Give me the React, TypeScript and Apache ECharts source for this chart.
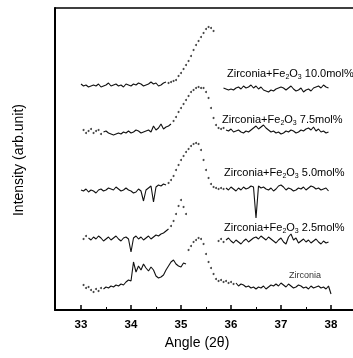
import React, { useEffect, useRef } from "react";
import * as echarts from "echarts";

// Angle grid (2θ), 33.00 … 38.00 in 0.05° steps
const angles: number[] = Array.from({ length: 101 }, (_, i) => Math.round((33 + i * 0.05) * 100) / 100);

const majorTicks = [33, 34, 35, 36, 37, 38];
const minorTicks = [33.5, 34.5, 35.5, 36.5, 37.5, 38.5];

// Intensities (arb. units, stacked with offsets as in the figure)
const fe100: (number | null)[] = [
  226, 224, 225, 223, 224, 225, 224, 226, 223, 224, 225, 227, 224, 225, 226, 224, 225, 223, 226, 225,
  224, 226, 225, 227, 226, 224, 225, 226, 228, 226, 227, 224, 225, 227, 228, 227,
  228, 229, 230, 234, 237, 241, 245, 249, 254, 260, 265, 269, 273, 277, 281, 283, 282, 279,
  null, null, null,
  222, 221, 220, 221, 220, 222, 223, 221, 224, 222, 223, 225, 222, 224, 221, 223, 220, 219, 218, 220,
  219, 221, 222, 223, 222, 220, 222, 224, 221, 219, 220, 222, 218, 220, 221, 219, 222, 223, 224, 222,
  225, 223, 222,
  null,
];
const fe75: (number | null)[] = [
  178, 180, 177, 179, 181, 177, 179, 180, 176, 178, 179, 177, 176, 175, 176, 177, 176, 178, 177, 179,
  177, 178, 180, 179, 177, 178, 179, 180, 178, 184, 180, 182, 186, 181, 183, 184,
  186, 189, 193, 198, 202, 206, 210, 214, 218, 220, 222, 223, 222, 222, 218, 212, 202, 192, 185, 182, 181,
  182, 180, 179, 181, 178, 179, 180, 178, 177, 179, 178, 180, 182, 184, 181, 183, 185, 182, 180, 178,
  179, 177, 178, 176, 177, 179, 178, 180, 179, 177, 178, 180, 179, 181, 182, 180, 183, 179, 181, 178,
  179, 177, 178,
  null,
];
const fe50: (number | null)[] = [
  120, 119, 121, 118, 120, 119, 117, 120, 121, 119, 120, 122, 121, 120, 123, 121, 119, 120, 122, 120,
  119, 117, 118, 121, 119, 109, 120, 122, 124, 108, 123, 125, 124, 126, 125, 127,
  130, 134, 140, 145, 150, 154, 158, 161, 164, 166, 167, 166, 160, 150, 140, 132, 126, 123, 122, 121, 122,
  121, 122, 120, 123, 121, 119, 122, 120, 123, 121, 122, 124, 123, 92, 124, 122, 123, 121, 120, 122,
  119, 121, 124, 125, 123, 120, 122, 121, 119, 120, 122, 121, 123, 120, 122, 124, 123, 121, 122, 120,
  121, 122, 119,
  null,
];
const fe25: (number | null)[] = [
  73, 71, 74, 72, 70, 73, 71, 74, 72, 69, 71, 73, 70, 72, 74, 71, 69, 72, 73, 71,
  58, 72, 74, 71, 73, 70, 72, 74, 71, 73, 75, 74, 76, 77, 79, 81,
  84, 89, 96, 104, 110, 103, 96,
  null, null, null, null, null, null, null, null, null, null, null, null,
  69, 71, 68, 70, 72, 69, 67, 70, 68, 66, 69, 71, 68, 70, 72, 73, 71, 74, 72, 70,
  73, 71, 69, 67, 70, 72, 68, 66, 73, 76, 70, 72, 67, 69, 71, 68, 70, 67, 69, 71,
  68, 66, 69, 67, 68,
  null,
];
const zirconia: (number | null)[] = [
  24, 25, 22, 23, 20, 18, 21, 19, 22, 21, 23, 22, 24, 23, 25, 24, 26, 25, 28, 30,
  29, 48, 38, 44, 40, 46, 42, 39, 43, 40, 34, 32, 33, 35, 40, 44, 48, 50, 46, 44,
  43, 47, 46,
  60, 64, 68, 70, 72, 71, 66, 56, 48, 42, 36, 31, 29,
  30, 28, 29, 27, 28, 26, 27, 24, 26, 25, 23, 24, 22, 23, 21, 23, 22, 24, 21, 23,
  25, 24, 26, 24, 27, 25, 23, 26, 24, 22, 23, 25, 24, 22, 23, 21, 24, 22, 23, 24,
  22, 23, 21, 24, 16,
];

// index ranges of the scan drawn as loose dots
const curves = [
  { name: "10.0", values: fe100, dotted: [[34, 56]] },
  { name: "7.5", values: fe75, dotted: [[0, 9], [36, 58]] },
  { name: "5.0", values: fe50, dotted: [[34, 58]] },
  { name: "2.5", values: fe25, dotted: [[0, 3], [35, 58]] },
  { name: "Zirconia", values: zirconia, dotted: [[0, 9], [42, 62]] },
];

const FONT = "'Liberation Sans', Arial, sans-serif";

function labelText(conc: string) {
  return `{a|Zirconia+Fe}{s|2}{a|O}{s|3}{a| ${conc}mol%}`;
}

export default function App() {
  const ref = useRef<HTMLDivElement>(null);
  useEffect(() => {
    document.body.style.margin = "0";
    const chart = echarts.init(ref.current!, null, { renderer: "svg" });
    const series: any[] = [];
    curves.forEach((c) => {
      const inDot = (i: number) => c.dotted.some(([a, b]) => i > a && i < b);
      series.push({
        type: "line",
        name: c.name,
        data: angles.map((a, i) => [a, inDot(i) || c.values[i] == null ? "-" : c.values[i]]),
        showSymbol: false,
        symbol: "none",
        connectNulls: false,
        lineStyle: { color: "#111", width: 1.1 },
        silent: true,
      });
      const dots: any[] = [];
      angles.forEach((a, i) => {
        if (inDot(i) && c.values[i] != null) dots.push([a, c.values[i]]);
      });
      series.push({
        type: "scatter",
        data: dots,
        symbol: "circle",
        symbolSize: 2,
        itemStyle: { color: "#111" },
        silent: true,
      });
    });

    const rich = {
      a: { fontSize: 11, lineHeight: 14, fontFamily: FONT, color: "#000", verticalAlign: "middle" },
      s: { fontSize: 7, lineHeight: 14, fontFamily: FONT, color: "#000", verticalAlign: "bottom", padding: [6, 0, 0, 0] },
    };
    const lbl = (x: number, y: number, conc: string) => ({
      type: "text",
      x,
      y,
      style: { text: labelText(conc), rich, verticalAlign: "middle", align: "left" },
    });

    chart.setOption({
      animation: false,
      grid: { left: 55, top: 8, right: 0, bottom: 48 },
      xAxis: [
        {
          type: "value",
          min: 32.48,
          max: 38.44,
          position: "bottom",
          axisLine: { lineStyle: { color: "#000", width: 2 } },
          axisTick: { inside: true, length: 5, customValues: majorTicks, lineStyle: { color: "#000", width: 1.5 } },
          axisLabel: {
            customValues: majorTicks,
            color: "#000",
            fontSize: 11.5,
            fontWeight: "bold",
            fontFamily: FONT,
            margin: 8,
          },
          splitLine: { show: false },
        },
        {
          type: "value",
          min: 32.48,
          max: 38.44,
          position: "bottom",
          axisLine: { show: false },
          axisTick: { inside: true, length: 3, customValues: minorTicks, lineStyle: { color: "#000", width: 1 } },
          axisLabel: { show: false },
          splitLine: { show: false },
        },
        {
          type: "value",
          min: 32.48,
          max: 38.44,
          position: "top",
          axisLine: { lineStyle: { color: "#000", width: 1.5 } },
          axisTick: { show: false },
          axisLabel: { show: false },
          splitLine: { show: false },
        },
      ],
      yAxis: {
        type: "value",
        min: 0,
        max: 302,
        axisLine: { show: true, lineStyle: { color: "#000", width: 2 } },
        axisTick: { show: false },
        axisLabel: { show: false },
        splitLine: { show: false },
      },
      series,
      graphic: [
        lbl(227, 73, "10.0"),
        lbl(222, 119, "7.5"),
        lbl(224, 172, "5.0"),
        lbl(224, 227, "2.5"),
        {
          type: "text",
          x: 305,
          y: 275,
          style: { text: "Zirconia", font: `9px ${FONT}`, fill: "#333", align: "center", verticalAlign: "middle" },
        },
        {
          type: "text",
          x: 197,
          y: 342,
          style: { text: "Angle (2θ)", font: `14px ${FONT}`, fill: "#000", align: "center", verticalAlign: "middle" },
        },
        {
          type: "text",
          x: 18,
          y: 160,
          rotation: Math.PI / 2,
          style: { text: "Intensity (arb.unit)", font: `14px ${FONT}`, fill: "#000", align: "center", verticalAlign: "middle" },
        },
      ],
    });
    return () => chart.dispose();
  }, []);
  return <div ref={ref} style={{ position: "fixed", left: 0, top: 0, width: 353, height: 358 }} />;
}
